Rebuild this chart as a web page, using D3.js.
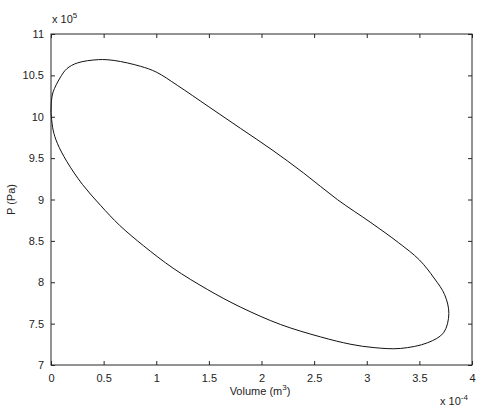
<!DOCTYPE html>
<html>
<head>
<meta charset="utf-8">
<script src="https://cdn.jsdelivr.net/npm/d3@7"></script>
<style>
  body { margin: 0; background: #fff; }
  svg { display: block; font-family: "Liberation Sans", Arial, sans-serif; }
</style>
</head>
<body>
<svg id="chart" width="491" height="420"></svg>
<script>
// Volume in units of 1e-4 m^3, pressure in units of 1e5 Pa, traced around the loop
const volume = [0, 0.005, 0.02, 0.086, 0.15, 0.25, 0.45, 0.6, 0.85, 1.0, 1.2, 1.5, 1.8, 2.1, 2.4, 2.72, 3.04, 3.3, 3.5, 3.64, 3.74, 3.78, 3.73, 3.58, 3.32, 3.07, 2.85, 2.56, 2.18, 1.8, 1.49, 1.16, 0.88, 0.65, 0.47, 0.3, 0.15, 0.06, 0.02, 0];
const pressure = [10.05, 10.2, 10.3, 10.47, 10.58, 10.65, 10.69, 10.68, 10.61, 10.54, 10.38, 10.12, 9.86, 9.6, 9.32, 9.0, 8.72, 8.48, 8.27, 8.05, 7.85, 7.62, 7.39, 7.27, 7.2, 7.21, 7.25, 7.34, 7.49, 7.7, 7.91, 8.17, 8.44, 8.69, 8.93, 9.18, 9.46, 9.68, 9.84, 10.05];
const xTicks = [0, 0.5, 1, 1.5, 2, 2.5, 3, 3.5, 4];
const yTicks = [7, 7.5, 8, 8.5, 9, 9.5, 10, 10.5, 11];

const svg = d3.select("#chart");
const m = { left: 51, right: 472, top: 34, bottom: 365 };

const x = d3.scaleLinear().domain([0, 4]).range([m.left, m.right]);
const y = d3.scaleLinear().domain([7, 11]).range([m.bottom, m.top]);

const axisColor = "#262626";
const tickLen = 4;

// frame
svg.append("rect")
  .attr("x", m.left).attr("y", m.top)
  .attr("width", m.right - m.left).attr("height", m.bottom - m.top)
  .attr("fill", "none").attr("stroke", axisColor).attr("stroke-width", 1);

// ticks pointing inward on all four sides (MATLAB style)
const gx = svg.append("g")
  .attr("transform", `translate(0,${m.bottom})`)
  .call(d3.axisBottom(x).tickValues(xTicks).tickSize(-tickLen).tickPadding(7).tickFormat(d3.format("~g")));
const gxTop = svg.append("g")
  .attr("transform", `translate(0,${m.top})`)
  .call(d3.axisTop(x).tickValues(xTicks).tickSize(-tickLen).tickFormat(""));
const gy = svg.append("g")
  .attr("transform", `translate(${m.left},0)`)
  .call(d3.axisLeft(y).tickValues(yTicks).tickSize(-tickLen).tickPadding(7).tickFormat(d3.format("~g")));
const gyRight = svg.append("g")
  .attr("transform", `translate(${m.right},0)`)
  .call(d3.axisRight(y).tickValues(yTicks).tickSize(-tickLen).tickFormat(""));

[gx, gxTop, gy, gyRight].forEach(g => {
  g.select(".domain").remove();
  g.selectAll(".tick line").attr("stroke", axisColor);
  g.selectAll(".tick text").attr("fill", "#222").style("font-size", "11px");
});
gx.selectAll(".tick text").attr("dy", "0.9em");

// loop
const pts = volume.map((v, i) => [v, pressure[i]]);
const line = d3.line()
  .x(d => x(d[0]))
  .y(d => y(d[1]))
  .curve(d3.curveCatmullRom.alpha(0.5));

svg.append("path")
  .datum(pts)
  .attr("d", line)
  .attr("fill", "none")
  .attr("stroke", "#111")
  .attr("stroke-width", 1);

// exponent labels
const exp5 = svg.append("text").attr("x", m.left + 1).attr("y", m.top - 11)
  .attr("fill", "#222").style("font-size", "11px");
exp5.append("tspan").text("x 10");
exp5.append("tspan").attr("dy", -5).style("font-size", "8px").text("5");

const expm4 = svg.append("text").attr("x", m.right - 32).attr("y", 405)
  .attr("fill", "#222").style("font-size", "11px");
expm4.append("tspan").text("x 10");
expm4.append("tspan").attr("dy", -5).style("font-size", "8px").text("-4");

// axis titles
const xl = svg.append("text").attr("x", 260).attr("y", 395)
  .attr("text-anchor", "middle").attr("fill", "#222").style("font-size", "11px");
xl.append("tspan").text("Volume (m");
xl.append("tspan").attr("dy", -5).style("font-size", "8px").text("3");
xl.append("tspan").attr("dy", 5).text(")");

svg.append("text")
  .attr("transform", `translate(15,${(m.top + m.bottom) / 2}) rotate(-90)`)
  .attr("text-anchor", "middle").attr("fill", "#222").style("font-size", "11px")
  .text("P (Pa)");
</script>
</body>
</html>
